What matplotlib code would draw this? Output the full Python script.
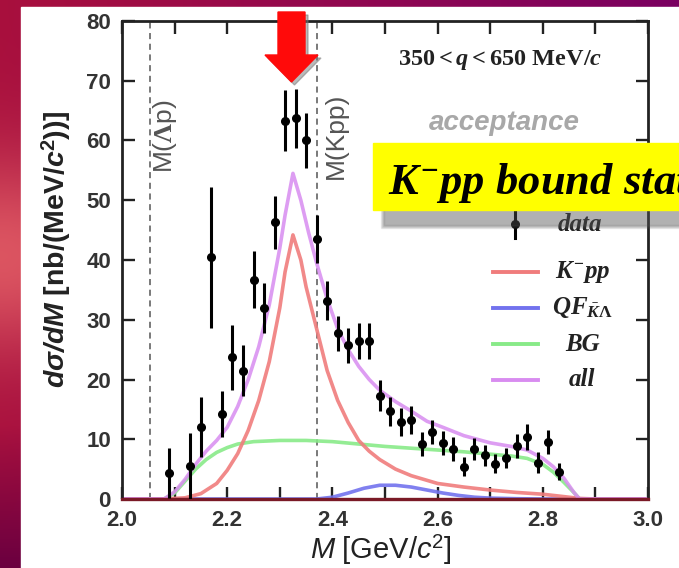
import numpy as np
import matplotlib
matplotlib.use('Agg')
import matplotlib.pyplot as plt
from matplotlib.patches import Rectangle, Polygon
from matplotlib.ticker import MultipleLocator, FormatStrFormatter

plt.rcParams['font.family'] = 'Liberation Sans'
plt.rcParams['mathtext.fontset'] = 'custom'
plt.rcParams['mathtext.rm'] = 'Liberation Serif:bold'
plt.rcParams['mathtext.it'] = 'Liberation Serif:italic:bold'
plt.rcParams['mathtext.bf'] = 'Liberation Sans:italic:bold'
plt.rcParams['mathtext.sf'] = 'Liberation Sans:bold'
plt.rcParams['mathtext.tt'] = 'Liberation Sans'
plt.rcParams['mathtext.cal'] = 'Liberation Sans:italic'

# data points (M in GeV/c^2, dsigma/dM in nb/(MeV/c^2))
m_data = [2.09, 2.13, 2.15, 2.17, 2.19, 2.21, 2.23, 2.25, 2.27, 2.29,
          2.31, 2.33, 2.35, 2.37, 2.39, 2.41, 2.43, 2.45, 2.47, 2.49,
          2.51, 2.53, 2.55, 2.57, 2.59, 2.61, 2.63, 2.65, 2.67, 2.69,
          2.71, 2.73, 2.75, 2.77, 2.79, 2.81, 2.83]
y_data = [4.4, 5.5, 12.1, 40.5, 14.2, 23.7, 21.5, 36.7, 32.0, 46.3,
          63.3, 63.7, 60.0, 43.5, 33.2, 27.7, 25.7, 26.4, 26.4, 17.3,
          14.7, 12.9, 13.2, 9.2, 11.2, 9.3, 8.3, 5.4, 8.4, 7.3,
          5.9, 6.9, 8.8, 10.4, 6.1, 9.6, 4.6]
y_err = [4.2, 5.5, 5.0, 11.8, 3.8, 5.4, 4.2, 4.8, 4.2, 4.4,
         5.1, 5.0, 4.6, 4.0, 3.3, 3.0, 3.0, 3.0, 3.0, 2.6,
         2.4, 2.3, 2.3, 2.0, 2.0, 2.0, 2.0, 1.6, 1.8, 1.8,
         1.6, 1.7, 2.0, 2.2, 1.7, 2.0, 1.5]

# fit components
m_kpp = [2.00, 2.08, 2.12, 2.15, 2.18, 2.20, 2.22, 2.24, 2.26, 2.28, 2.30,
         2.31, 2.325, 2.34, 2.35, 2.37, 2.39, 2.41, 2.43, 2.45, 2.47, 2.49,
         2.52, 2.55, 2.60, 2.65, 2.70, 2.75, 2.80, 2.84, 2.87, 2.90, 3.00]
y_kpp = [0, 0, 0.2, 0.9, 2.6, 4.8, 7.6, 11.5, 16.5, 23, 32,
         38, 44.2, 40, 35.5, 28.5, 21.5, 16.5, 12.8, 9.8, 8.0, 6.6,
         5.0, 3.9, 2.6, 2.0, 1.5, 1.1, 0.8, 0.4, 0.1, 0, 0]

m_qf = [2.00, 2.37, 2.40, 2.43, 2.46, 2.49, 2.52, 2.55, 2.58, 2.61,
        2.64, 2.67, 2.70, 2.75, 2.80, 3.00]
y_qf = [0, 0, 0.3, 1.0, 1.8, 2.3, 2.3, 2.0, 1.5, 1.0,
        0.6, 0.3, 0.15, 0.05, 0, 0]

m_bg = [2.00, 2.08, 2.10, 2.12, 2.14, 2.16, 2.18, 2.20, 2.22, 2.25, 2.30,
        2.35, 2.40, 2.45, 2.50, 2.55, 2.60, 2.65, 2.70, 2.74, 2.77, 2.80,
        2.82, 2.84, 2.86, 2.87, 3.00]
y_bg = [0, 0, 1.0, 3.0, 5.0, 6.6, 7.8, 8.6, 9.2, 9.6, 9.8,
        9.8, 9.6, 9.2, 8.8, 8.5, 8.2, 7.9, 7.5, 7.2, 6.8, 5.8,
        4.5, 2.8, 1.0, 0, 0]

m_all = [2.00, 2.08, 2.10, 2.12, 2.14, 2.16, 2.18, 2.20, 2.22, 2.24, 2.26,
         2.28, 2.30, 2.31, 2.325, 2.34, 2.355, 2.37, 2.39, 2.41, 2.43, 2.45,
         2.47, 2.49, 2.52, 2.55, 2.58, 2.61, 2.65, 2.70, 2.74, 2.77, 2.80,
         2.82, 2.84, 2.86, 2.87, 3.00]
y_all = [0, 0, 1.2, 3.3, 5.8, 8.0, 9.8, 12.0, 15.5, 20, 25.5,
         32.5, 42, 47.5, 54.5, 50, 44.5, 39.5, 33.5, 28.5, 25, 22.2,
         20.0, 18.2, 16.3, 14.7, 13.0, 12.0, 10.6, 9.4, 8.8, 8.2, 6.8,
         5.4, 3.5, 1.0, 0, 0]

m_lp = 2.054
m_kpp_thr = 2.370

fig = plt.figure(figsize=(6.79, 5.68), dpi=100)

# slide background
bg = fig.add_axes([0, 0, 1, 1], zorder=-10)
yy, xx = np.mgrid[0:1:200j, 0:1:240j]
crimson = np.array([0.66, 0.06, 0.24])
purple = np.array([0.48, 0.0, 0.38])
pink = np.array([0.86, 0.33, 0.38])
darkp = np.array([0.42, 0.0, 0.25])
img = crimson + (purple - crimson) * xx[..., None]
wgt = np.exp(-((xx / 0.2) ** 2 + ((yy - 0.45) / 0.18) ** 2))
img = img + (pink - img) * wgt[..., None]
dk = np.clip((yy - 0.75) / 0.25, 0, 1)
img = img + (darkp - img) * dk[..., None]
bg.imshow(img, extent=[0, 1, 0, 1], aspect='auto', origin='upper')
bg.set_xlim(0, 1)
bg.set_ylim(0, 1)
bg.axis('off')
bg.add_patch(Rectangle((21 / 679, 0), 1, 1 - 7 / 568, color='white'))

ax = fig.add_axes([122 / 679, 69 / 568, 526 / 679, 478 / 568])
ax.set_xlim(2.0, 3.0)
ax.set_ylim(0, 80)

lw = 2.6
ax.plot(m_bg, y_bg, color='#88ea88', lw=lw, zorder=2.0, alpha=0.9)
ax.plot(m_qf, y_qf, color='#7272ee', lw=lw, zorder=2.05, alpha=0.9)
ax.plot(m_kpp, y_kpp, color='#f07c7c', lw=lw, zorder=2.1, alpha=0.9)
ax.plot(m_all, y_all, color='#d88cf0', lw=lw, zorder=2.2, alpha=0.85)

ax.errorbar(m_data, y_data, yerr=y_err, fmt='o', color='black', ms=5.5,
            elinewidth=2.2, capsize=0, zorder=4)

for xv in (m_lp, m_kpp_thr):
    ax.axvline(xv, color='#555555', lw=1.1, ls=(0, (4, 3)), zorder=1.5)
ax.text(2.082, 60.8, r'M($\Lambda$p)', rotation=90, ha='center', va='center',
        fontsize=19, color='#555555')
ax.text(2.406, 60.8, 'M(Kpp)', rotation=90, ha='center', va='center',
        fontsize=19, color='#555555')

ax.xaxis.set_major_locator(MultipleLocator(0.2))
ax.xaxis.set_minor_locator(MultipleLocator(0.1))
ax.xaxis.set_major_formatter(FormatStrFormatter('%.1f'))
ax.yaxis.set_major_locator(MultipleLocator(10))
ax.tick_params(which='both', direction='in', top=True, right=True,
               length=9, width=1.7, color='#222222')
ax.tick_params(axis='x', labelsize=16, labelcolor='#333333', pad=8)
ax.tick_params(axis='y', labelsize=16, labelcolor='#333333', pad=8)
for lab in ax.get_xticklabels() + ax.get_yticklabels():
    lab.set_fontweight('bold')
for s in ax.spines.values():
    s.set_linewidth(2.0)
    s.set_color('#222222')
ax.spines['bottom'].set_color('#7a1a26')
ax.spines['bottom'].set_linewidth(2.4)

# labels
fig.text(56 / 679, 1 - 249 / 568,
         r'$\mathbf{d\sigma/dM}\ \mathsf{[nb/(MeV/}\mathbf{c}^{\mathsf{2}}\mathsf{))]}$',
         rotation=90, ha='center', va='center', fontsize=20.5, color='#222222')
fig.text(381 / 679, 1 - 550 / 568,
         r'$\mathcal{M}\ \mathtt{[GeV/}\mathcal{c}^{\mathtt{2}}\mathtt{]}$',
         ha='center', va='center', fontsize=21, color='#222222')

# annotations and legend
ax.text(0.719, 0.918, r'$\mathrm{350} < q < \mathrm{650\ MeV/}c$',
        transform=ax.transAxes, ha='center', va='center', fontsize=17.5,
        color='#222222')
ax.text(0.727, 0.787, 'acceptance', transform=ax.transAxes, ha='center',
        va='center', fontsize=20, style='italic', weight='bold',
        color='#a8a8a8')

ax.plot([0.747, 0.747], [0.546, 0.605], color='black', lw=2.2,
        transform=ax.transAxes)
ax.plot([0.747], [0.575], 'o', color='black', ms=5.5, transform=ax.transAxes)
leg_font = dict(family='Liberation Serif', style='italic', weight='bold',
                fontsize=18, color='#222222', ha='center', va='center',
                transform=ax.transAxes)
ax.text(0.871, 0.575, 'data', **leg_font)
leg_rows = [('#f07c7c', r'$K^{-}pp$', 0.474),
            ('#7272ee', r'$QF_{\bar{K}\Lambda}$', 0.400),
            ('#88ea88', 'BG', 0.324),
            ('#d88cf0', 'all', 0.249)]
for col, lab, yv in leg_rows:
    ax.plot([0.705, 0.791], [yv, yv], color=col, lw=2.8, transform=ax.transAxes)
    ax.text(0.875, yv, lab, **leg_font)

# yellow banner with shadow
for i, a in enumerate([0.10, 0.12, 0.15, 0.18]):
    d = 4 - i
    fig.patches.append(Rectangle(((385 - d) / 679, 1 - (224 + d) / 568),
                                 1, (70 + 2 * d) / 568, color='#555555',
                                 alpha=a, transform=fig.transFigure, zorder=5))
fig.patches.append(Rectangle((373 / 679, 1 - 210 / 568), 1, 67 / 568,
                             color='#ffff00', transform=fig.transFigure,
                             zorder=6))
fig.text(388 / 679, 1 - 194 / 568, r'$K^{-}pp\ bound\ state$',
         ha='left', va='baseline', fontsize=32, color='black', zorder=7)

# red arrow with shadow
arrow = [(278, 12), (305, 12), (305, 55), (318, 55), (291.5, 82),
         (265, 55), (278, 55)]
shadow = [((x + 3) / 679, 1 - (y + 3) / 568) for x, y in arrow]
fig.patches.append(Polygon(shadow, closed=True, color='#777777', alpha=0.5,
                           transform=fig.transFigure, zorder=5))
pts = [(x / 679, 1 - y / 568) for x, y in arrow]
fig.patches.append(Polygon(pts, closed=True, color='#ff0a0a',
                           transform=fig.transFigure, zorder=6))

fig.savefig('out.png', dpi=100)
